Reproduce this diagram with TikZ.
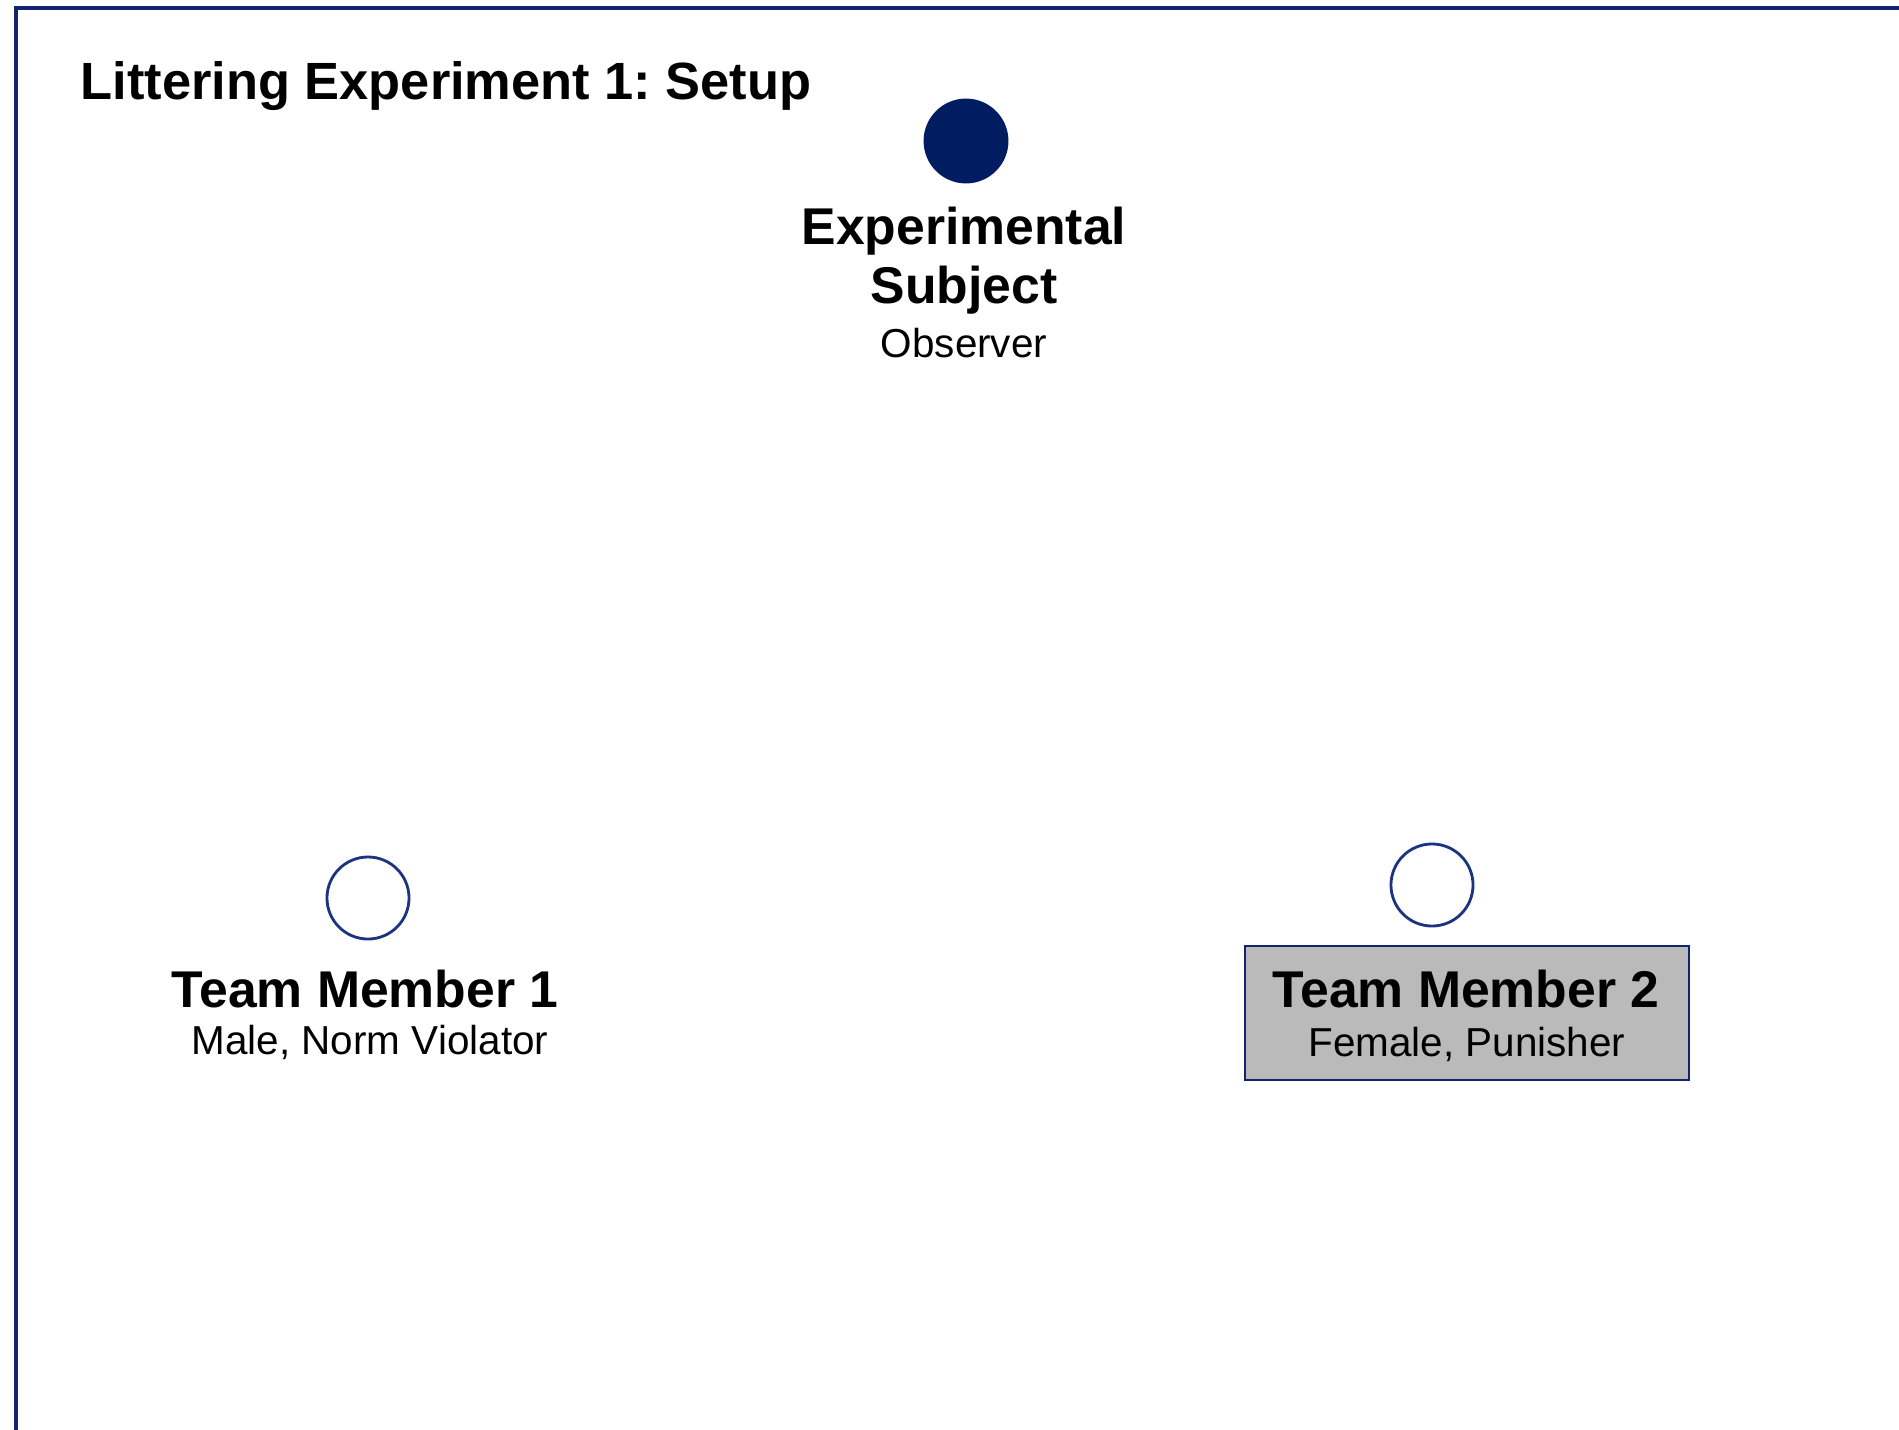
\documentclass[tikz,border=0pt]{standalone}
\usepackage{fontspec}
\setmainfont{Liberation Sans}
\frenchspacing
\definecolor{navy}{RGB}{18,36,110}
\definecolor{ringblue}{RGB}{28,52,128}
\definecolor{navyfill}{RGB}{2,28,98}
\definecolor{boxgray}{RGB}{186,186,186}
\begin{document}
\begin{tikzpicture}[x=0.01cm,y=-0.01cm,
  person/.style={circle,draw=ringblue,line width=0.8pt,inner sep=0pt,minimum size=0.82cm},
  head/.style={anchor=base,inner sep=0pt,font=\fontsize{14.7}{17}\selectfont\bfseries},
  sub/.style={anchor=base,inner sep=0pt,font=\fontsize{11.5}{14}\selectfont},
  rolebox/.style={rectangle,draw=navy,fill=boxgray,line width=0.65pt,inner sep=0pt}]
\useasboundingbox (0,0) rectangle (1899,1430);
% frame: left and top edges
\coordinate (fbl) at (16,1432);
\coordinate (ftl) at (16,8);
\coordinate (ftr) at (1901,8);
\draw[navy,line width=0.95pt] (fbl) -- (ftl) -- (ftr);
% title
\node[head,anchor=base west,font=\fontsize{14.9}{17}\selectfont\bfseries] (title) at (80,100) {Littering Experiment 1: Setup};
% observer
\node[person,fill=navyfill,draw=navyfill] (subj) at (966,141) {};
\node[head] (subjA) at (964,244) {Experimental};
\node[head] (subjB) at (964,303) {Subject};
\node[sub] (subjC) at (964,357) {Observer};
% team member 1
\node[person] (tm1) at (368,898) {};
\node[head] (tm1A) at (365,1007) {Team Member 1};
\node[sub] (tm1B) at (370,1054) {Male, Norm Violator};
% team member 2
\node[person] (tm2) at (1432,885) {};
\node[rolebox,minimum width=4.44cm,minimum height=1.34cm] (tm2box) at (1467,1013) {};
\node[head] (tm2A) at (1466,1007) {Team Member 2};
\node[sub] (tm2B) at (1467,1056) {Female, Punisher};
\end{tikzpicture}
\end{document}
